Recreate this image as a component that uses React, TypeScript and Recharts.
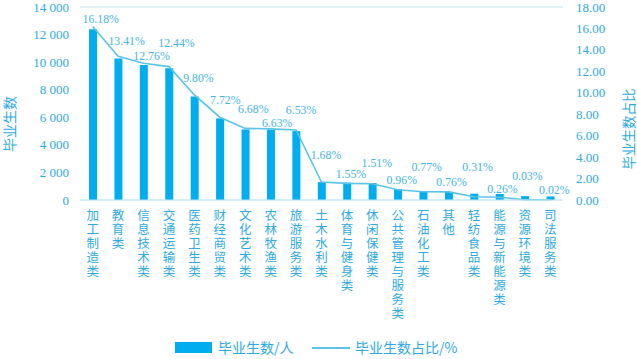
import React from "react";
import { ComposedChart, Bar, Line, XAxis, YAxis, CartesianGrid, Legend, LabelList } from "recharts";

const categories = [
  "加工制造类", "教育类", "信息技术类", "交通运输类", "医药卫生类", "财经商贸类", "文化艺术类",
  "农林牧渔类", "旅游服务类", "土木水利类", "体育与健身类", "休闲保健类", "公共管理与服务类",
  "石油化工类", "其他", "轻纺食品类", "能源与新能源类", "资源环境类", "司法服务类",
];
const graduates = [12380, 10270, 9790, 9550, 7500, 5920, 5120, 5100, 5000, 1300, 1260, 1230, 780, 600, 590, 460, 440, 280, 260];
const shares = [16.18, 13.41, 12.76, 12.44, 9.8, 7.72, 6.68, 6.63, 6.53, 1.68, 1.55, 1.51, 0.96, 0.77, 0.76, 0.31, 0.26, 0.03, 0.02];
const leftTicks = [0, 2000, 4000, 6000, 8000, 10000, 12000, 14000];
const rightTicks = [0, 2, 4, 6, 8, 10, 12, 14, 16, 18];

// label placement (dx, dy of label centre relative to the point)
const labelOffsets: [number, number][] = [
  [8, -8], [8.5, -15], [8, -7], [7.5, -24], [4, -17], [5.5, -17], [8, -19], [6.5, -6], [5, -20],
  [4.5, -27], [4, -9], [4.5, -21], [4, -10], [3.5, -25], [3, -10], [3.5, -30], [3, -8], [2.5, -24], [4, -10],
];

const data = categories.map((name, i) => ({ name, count: graduates[i], share: shares[i] }));

const BAR = "#00aeef";
const LINE = "#5bc3e8";
const TEXT = "#2eaae0";
const LABEL = "#45b4e2";
const GRID = "#c3e6f5";
const NUM_FONT = "'Liberation Serif', 'DejaVu Serif', serif";
const CJK_FONT = "'Noto Sans CJK SC', sans-serif";

const CatTick = (props: any) => {
  const { x, payload } = props;
  const chars = Array.from(String(payload.value));
  return (
    <g>
      {chars.map((c, i) => (
        <text key={i} x={x} y={220 + i * 14} textAnchor="middle" fill={TEXT} fontSize={12.5} fontFamily={CJK_FONT}>
          {c}
        </text>
      ))}
    </g>
  );
};

const fmtLeft = (v: number) => (v >= 1000 ? `${Math.floor(v / 1000)} ${String(v % 1000).padStart(3, "0")}` : String(v));

const LeftTick = (props: any) => {
  const { y, payload } = props;
  return (
    <text x={69} y={y} dy={4.5} textAnchor="end" fill={TEXT} fontSize={13} fontFamily={NUM_FONT}>
      {fmtLeft(payload.value)}
    </text>
  );
};

const RightTick = (props: any) => {
  const { y, payload } = props;
  return (
    <text x={576} y={y} dy={4.5} textAnchor="start" fill={TEXT} fontSize={13} fontFamily={NUM_FONT}>
      {Number(payload.value).toFixed(2)}
    </text>
  );
};

const ShareLabel = (props: any) => {
  const { x, y, index, value } = props;
  const off = labelOffsets[index] || [0, -10];
  return (
    <text x={x + off[0]} y={y + off[1]} dy={4} textAnchor="middle" fill={LABEL} fontSize={11.8} fontFamily={NUM_FONT}>
      {Number(value).toFixed(2)}%
    </text>
  );
};

const LegendContent = () => (
  <div style={{ position: "relative", height: 30, fontFamily: CJK_FONT, fontSize: 14, color: TEXT }}>
    <div style={{ position: "absolute", left: 175, top: 13, width: 37, height: 11, background: BAR }} />
    <div style={{ position: "absolute", left: 218, top: 9, lineHeight: "18px" }}>毕业生数/人</div>
    <div style={{ position: "absolute", left: 312, top: 18, width: 38, height: 1.5, background: LINE }} />
    <div style={{ position: "absolute", left: 355, top: 9, lineHeight: "18px" }}>毕业生数占比/%</div>
  </div>
);

export default function App() {
  return (
    <div style={{ position: "absolute", left: 0, top: 0, width: 637, height: 359, background: "#fff" }}>
      <ComposedChart width={637} height={359} data={data} margin={{ top: 7, right: 0, bottom: 0, left: 0 }}>
        <CartesianGrid vertical={false} stroke={GRID} strokeWidth={1} />
        <XAxis
          dataKey="name"
          interval={0}
          height={129}
          tick={<CatTick />}
          tickLine={false}
          axisLine={{ stroke: GRID }}
        />
        <YAxis
          yAxisId="left"
          domain={[0, 14000]}
          ticks={leftTicks}
          interval={0}
          width={80}
          tick={<LeftTick />}
          tickLine={false}
          axisLine={false}
        />
        <YAxis
          yAxisId="right"
          orientation="right"
          domain={[0, 18]}
          ticks={rightTicks}
          interval={0}
          width={74}
          tick={<RightTick />}
          tickLine={false}
          axisLine={false}
        />
        <Legend verticalAlign="bottom" height={30} content={<LegendContent />} wrapperStyle={{ left: 0, width: 637 }} />
        <Bar yAxisId="left" dataKey="count" fill={BAR} barSize={8} isAnimationActive={false} />
        <Line
          yAxisId="right"
          dataKey="share"
          stroke={LINE}
          strokeWidth={1.6}
          dot={false}
          activeDot={false}
          type="linear"
          isAnimationActive={false}
        >
          <LabelList dataKey="share" content={<ShareLabel />} />
        </Line>
        <text x={9} y={124} transform="rotate(-90 9 124)" textAnchor="middle" dominantBaseline="central" fill={TEXT} fontSize={14} fontFamily={CJK_FONT}>
          毕业生数
        </text>
        <text x={628} y={129} transform="rotate(-90 628 129)" textAnchor="middle" dominantBaseline="central" fill={TEXT} fontSize={13.5} fontFamily={CJK_FONT}>
          毕业生数占比
        </text>
      </ComposedChart>
    </div>
  );
}
